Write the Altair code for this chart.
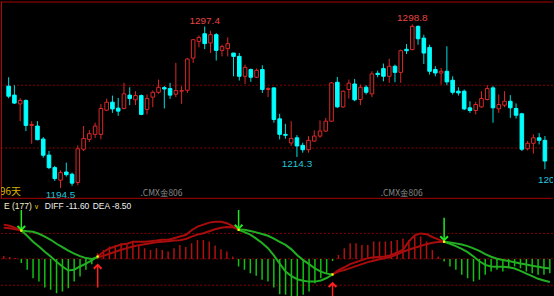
import altair as alt
import pandas as pd

# ---------------- data ----------------
opens = [1259.4, 1253.7, 1248.1, 1250.3, 1234.4, 1234.0, 1225.7, 1215.5, 1207.5, 1199.5,
         1204.7, 1203.3, 1198.0, 1219.2, 1225.5, 1228.7, 1228.7, 1244.1, 1249.2, 1245.4,
         1245.2, 1253.7, 1250.7, 1253.4, 1244.6, 1252.4, 1255.5, 1258.5, 1257.9, 1254.3,
         1256.2, 1256.8, 1277.3, 1287.9, 1292.8, 1286.9, 1292.2, 1282.2, 1283.3, 1280.5,
         1278.4, 1265.7, 1270.0, 1265.1, 1270.0, 1257.3, 1258.3, 1238.6, 1228.7, 1223.2,
         1226.5, 1221.7, 1218.9, 1224.4, 1227.6, 1230.8, 1237.1, 1261.9, 1246.2, 1257.3,
         1260.8, 1250.9, 1258.7, 1254.5, 1267.6, 1270.6, 1265.7, 1272.1, 1268.2, 1282.9,
         1282.7, 1297.5, 1290.0, 1284.1, 1270.0, 1267.8, 1268.9, 1263.2, 1256.2, 1256.2,
         1245.6, 1243.9, 1246.2, 1250.9, 1258.3, 1245.0, 1247.3, 1249.8, 1245.2, 1241.8,
         1219.5, 1223.0, 1226.5, 1224.9]
highs = [1265.1, 1260.0, 1251.9, 1250.9, 1237.1, 1237.1, 1227.0, 1218.1, 1208.6, 1205.8,
         1210.7, 1204.3, 1221.7, 1234.0, 1231.4, 1236.1, 1248.1, 1251.5, 1253.4, 1251.9,
         1261.5, 1258.7, 1256.2, 1254.1, 1254.1, 1256.6, 1263.6, 1259.4, 1261.5, 1274.2,
         1259.4, 1277.3, 1289.4, 1291.7, 1297.4, 1294.7, 1293.2, 1285.8, 1290.5, 1280.5,
         1280.5, 1273.1, 1270.6, 1270.6, 1272.7, 1258.7, 1258.7, 1241.8, 1235.4, 1237.1,
         1228.2, 1223.4, 1227.6, 1231.2, 1237.6, 1239.2, 1262.1, 1265.3, 1256.6, 1263.6,
         1264.0, 1260.4, 1260.0, 1268.9, 1269.3, 1273.8, 1276.9, 1273.1, 1282.7, 1286.2,
         1298.8, 1298.1, 1292.2, 1285.8, 1272.1, 1271.0, 1284.8, 1265.7, 1258.7, 1257.3,
         1249.8, 1249.4, 1256.2, 1260.0, 1259.4, 1254.1, 1256.2, 1253.7, 1248.4, 1242.4,
         1224.4, 1228.7, 1229.5, 1227.6]
lows = [1251.7, 1248.1, 1237.1, 1230.8, 1222.7, 1224.9, 1213.8, 1206.5, 1199.0, 1194.5,
        1201.8, 1195.9, 1196.3, 1218.1, 1223.8, 1226.3, 1225.5, 1243.5, 1242.4, 1240.5,
        1244.6, 1247.3, 1247.3, 1240.9, 1241.4, 1246.0, 1254.5, 1245.2, 1251.3, 1252.4,
        1248.1, 1255.1, 1274.2, 1284.1, 1283.0, 1280.5, 1275.7, 1278.4, 1278.4, 1265.7,
        1263.0, 1260.8, 1262.1, 1264.6, 1255.1, 1252.4, 1236.1, 1225.5, 1225.9, 1221.3,
        1214.3, 1217.0, 1217.0, 1224.0, 1226.5, 1230.3, 1236.7, 1245.6, 1245.6, 1251.5,
        1249.8, 1247.3, 1254.1, 1252.4, 1265.1, 1262.5, 1261.5, 1261.9, 1261.5, 1279.9,
        1282.2, 1285.8, 1273.5, 1266.8, 1265.7, 1260.4, 1260.0, 1254.1, 1253.4, 1244.1,
        1242.4, 1241.4, 1245.6, 1250.3, 1236.1, 1242.4, 1246.0, 1239.2, 1238.8, 1218.1,
        1218.5, 1216.4, 1222.3, 1206.5]
closes = [1253.0, 1248.6, 1250.3, 1234.4, 1235.0, 1225.3, 1215.4, 1207.5, 1200.5, 1204.3,
          1203.0, 1197.6, 1219.5, 1226.1, 1229.1, 1234.0, 1245.2, 1249.2, 1244.9, 1243.5,
          1254.5, 1251.5, 1253.4, 1241.4, 1251.5, 1255.5, 1258.7, 1257.6, 1253.7, 1256.6,
          1256.6, 1276.7, 1289.0, 1290.5, 1286.5, 1292.2, 1282.2, 1284.6, 1286.5, 1278.4,
          1265.7, 1271.4, 1265.1, 1269.5, 1257.3, 1257.9, 1238.2, 1228.7, 1228.1, 1226.1,
          1221.3, 1218.9, 1224.9, 1227.6, 1230.8, 1237.1, 1261.5, 1246.2, 1256.2, 1261.3,
          1250.7, 1258.7, 1255.5, 1267.2, 1266.8, 1265.7, 1272.1, 1268.2, 1282.0, 1282.0,
          1297.5, 1289.6, 1280.5, 1268.9, 1267.8, 1268.9, 1262.1, 1255.5, 1255.1, 1244.9,
          1243.9, 1247.7, 1251.5, 1257.9, 1245.6, 1247.7, 1249.8, 1245.6, 1240.9, 1219.2,
          1223.0, 1226.5, 1224.9, 1211.7]

grid_prices = [1260, 1220]

high_label_idx = [34, 70]
high_label_val = [1297.4, 1298.8]
low_label_idx = [9, 50]
low_label_val = [1194.5, 1214.3]
last_label_idx = [93]
last_label_val = [1206.5]

diff = [17.2, 16.6, 15.6, 14.2, 11.6, 8.6, 6.2, 3.6, 1.2, -1.4, -3.8, -5.8, -5.4, -3.8, -2.4, -0.8, 1.2,
        3.6, 5.2, 6.2, 7.2, 7.6, 8.6, 8.6, 8.6, 8.9, 9.2, 9.6, 9.6, 10.4, 11.2, 12.0, 14.4, 16.2, 17.2,
        18.2, 18.6, 18.6, 17.9, 16.4,
        14.6, 13.4, 12.2, 10.2, 8.0, 5.4, 1.8, -2.4, -6.4, -8.6, -10.2, -11.0, -11.4, -11.4, -10.8, -9.6,
        -7.8, -5.6, -4.2, -2.6, -1.6, -0.6, 0.4, 0.8, 1.0, 1.2, 2.0, 3.2, 4.6, 8.8, 11.8, 12.8, 12.4, 11.0, 9.8,
        8.6, 7.6, 6.4, 5.0, 3.4, 1.2, -1.2, -3.0, -3.8, -3.9, -3.9, -4.2, -4.8, -6.0, -7.4, -8.6, -10.0, -10.8, -11.6]
dea = [15.6, 15.4, 14.9, 14.2, 13.9, 13.6, 12.6, 11.2, 9.6, 7.6, 5.9, 4.2, 2.6, 1.4, 0.4, 0.0, 0.8,
       1.6, 2.6, 3.6, 4.6, 5.4, 6.2, 6.9, 7.4, 7.9, 8.4, 8.6, 8.9, 9.2, 9.4, 10.0, 11.2, 12.2, 12.9,
       13.9, 14.9, 15.6, 16.0, 15.9,
       14.8, 14.6, 14.0, 13.3, 12.5, 11.6, 10.2, 8.6, 7.0, 4.8, 1.8, -0.6, -2.6, -4.8, -6.4, -7.4,
       -7.8, -6.4, -5.6, -4.6, -3.6, -2.6, -1.6, -0.9, -0.2, 0.4, 1.2, 2.3, 3.6, 4.6, 5.6, 6.5, 7.4, 8.1, 8.5,
       8.6, 8.3, 7.8, 7.2, 6.4, 5.3, 4.0, 2.4, 1.1, 0.1, -0.5, -1.1, -1.7, -2.3, -2.8, -3.4, -3.9, -4.4, -4.8]
hist = [1.5, 1.0, 0.5, -2.0, -5.5, -9.7, -11.3, -14.3, -15.5, -17.2, -16.3, -14.7, -11.3, -8.8, -5.5, -2.7,
        2.8, 4.5, 6.2, 7.0, 7.8, 7.0, 8.7, 7.0, 5.3, 4.5, 5.3, 4.5, 3.7, 5.3, 7.0, 6.0, 7.8, 9.5, 9.5, 8.7,
        6.7, 4.8, 3.7, 1.2,
        -3.8, -5.5, -7.2, -8.5, -10.5, -11.3, -14.3, -17.7, -18.0, -18.8, -18.8, -18.0, -16.3, -12.2, -9.7,
        -7.2, -1.0,
        2.0, 5.3, 7.8, 7.8, 7.0, 7.0, 8.7, 8.7, 8.7, 9.0, 9.5, 10.3, 9.5, 12.0, 11.2, 8.7, 4.5, 1.2,
        -1.3, -3.8, -5.5, -8.0, -9.7, -11.3, -10.5, -8.0, -6.3, -5.5, -6.3, -4.7, -3.8, -4.7, -6.3, -7.2,
        -8.0, -8.0, -7.2]
macd_grid = [12.8, 0.0, -13.2]

cross_idx = [3, 16, 40, 56, 75]
cross_val = [14.2, 1.2, 14.6, -7.8, 8.6]
cross_kind = ["down", "up", "down", "up", "down"]
arrow_tip = [14.6, -3.0, 15.2, -12.2, 9.4]
arrow_tail = [24.5, -14.4, 24.5, -19.3, 20.6]

# ---------------- styles ----------------
BG = "#000000"
BULL = "#dc2828"
BEAR = "#00ffff"
BEAR_WICK = "#00dede"
LINE_RED = "#a80c0c"
LINE_GREEN = "#22b022"
HIST_RED = "#b01010"
HIST_GREEN = "#12c012"
ARROW_GREEN = "#22e622"
ARROW_RED = "#ff2020"
GRID = "#8b0000"
BORDER = "#a80000"
W = 554

n = len(opens)
idx = list(range(n))
candles = pd.DataFrame({"i": idx, "open": opens, "high": highs, "low": lows, "close": closes})
bull = [c >= o for o, c in zip(opens, closes)]
candles["col"] = [BULL if b else BEAR_WICK for b in bull]
candles["stroke"] = [BULL if b else BEAR for b in bull]
candles["fill"] = [BG if b else BEAR for b in bull]

xs = alt.Scale(domain=[-0.46, 93.54], nice=False, zero=False)
ys_top = alt.Scale(domain=[1187.62, 1313.33], nice=False, zero=False)
ys_bot = alt.Scale(domain=[-19.35, 29.65], nice=False, zero=False)
X = alt.X("i:Q", scale=xs, axis=None)
one = pd.DataFrame({"a": [0]})

# ---------------- top (price) panel ----------------
grid = alt.Chart(pd.DataFrame({"p": grid_prices})).mark_rule(
    color=GRID, strokeDash=[2, 2], strokeWidth=1
).encode(y=alt.Y("p:Q", scale=ys_top, axis=None))

top_line = alt.Chart(one).mark_rule(color=BORDER, strokeWidth=1).encode(
    x=alt.value(0), x2=alt.value(W), y=alt.value(0.5))
left_line = alt.Chart(one).mark_rule(color="#c00000", strokeWidth=1).encode(
    x=alt.value(0.5), y=alt.value(0), y2=alt.value(198))
sep_line = alt.Chart(one).mark_rule(color=BORDER, strokeWidth=1).encode(
    x=alt.value(0), x2=alt.value(W), y=alt.value(197.5))

wicks = alt.Chart(candles).mark_rule(strokeWidth=1).encode(
    x=X, y=alt.Y("low:Q", scale=ys_top, axis=None), y2="high:Q",
    color=alt.Color("col:N", scale=None))
bodies = alt.Chart(candles).mark_bar(width=3.6, strokeWidth=1).encode(
    x=X, y=alt.Y("open:Q", scale=ys_top, axis=None), y2="close:Q",
    fill=alt.Fill("fill:N", scale=None), stroke=alt.Stroke("stroke:N", scale=None))

lab_font = "Liberation Sans"
hi_df = pd.DataFrame({"i": high_label_idx, "p": high_label_val,
                      "t": [f"{v:.1f}" for v in high_label_val]})
lo_df = pd.DataFrame({"i": low_label_idx, "p": low_label_val,
                      "t": [f"{v:.1f}" for v in low_label_val]})
last_df = pd.DataFrame({"i": last_label_idx, "p": last_label_val,
                        "t": [f"{v:.1f}" for v in last_label_val]})
hi_text = alt.Chart(hi_df).mark_text(
    color="#e84444", font=lab_font, fontSize=10, baseline="bottom", dy=-1, clip=True
).encode(x=X, y=alt.Y("p:Q", scale=ys_top, axis=None), text="t:N")
lo_text = alt.Chart(lo_df).mark_text(
    color="#22c8d8", font=lab_font, fontSize=10, baseline="top", dy=2, clip=True
).encode(x=X, y=alt.Y("p:Q", scale=ys_top, axis=None), text="t:N")
last_text = alt.Chart(last_df).mark_text(
    color="#22c8d8", font=lab_font, fontSize=10, baseline="top", align="left", dx=-7, dy=6, clip=True
).encode(x=X, y=alt.Y("p:Q", scale=ys_top, axis=None), text="t:N")

cjk = "Noto Sans CJK SC"
days_text = alt.Chart(one).mark_text(
    text="96天", color="#d8b400", font=cjk, fontSize=10, align="left", baseline="middle", clip=True
).encode(x=alt.value(-1), y=alt.value(191))
wm1 = alt.Chart(one).mark_text(
    text=".CMX金806", color="#8a8a8a", font=cjk, fontSize=8.5, align="left", baseline="middle"
).encode(x=alt.value(140), y=alt.value(192.5))
wm2 = alt.Chart(one).mark_text(
    text=".CMX金806", color="#8a8a8a", font=cjk, fontSize=8.5, align="left", baseline="middle"
).encode(x=alt.value(381), y=alt.value(192.5))

top = alt.layer(grid, top_line, left_line, wicks, bodies, hi_text, lo_text, last_text,
                days_text, wm1, wm2, sep_line).properties(width=W, height=198)

# ---------------- bottom (MACD) panel ----------------
Yb = lambda f: alt.Y(f, scale=ys_bot, axis=None)

mgrid = alt.Chart(pd.DataFrame({"v": macd_grid})).mark_rule(
    color=GRID, strokeDash=[2, 2], strokeWidth=1
).encode(y=Yb("v:Q"))

hdf = pd.DataFrame({"i": idx, "h": hist, "zero": [0.0] * n})
hdf["col"] = [HIST_RED if h > 0 else HIST_GREEN for h in hist]
hbars = alt.Chart(hdf).mark_rule(strokeWidth=1.5, clip=True).encode(
    x=X, y=Yb("h:Q"), y2="zero:Q", color=alt.Color("col:N", scale=None))

bounds = [0] + cross_idx + [n - 1]
seg_cols = [LINE_RED, LINE_GREEN, LINE_RED, LINE_GREEN, LINE_RED, LINE_GREEN]
rows = []
for k in range(len(bounds) - 1):
    for i in range(bounds[k], bounds[k + 1] + 1):
        rows.append({"i": i, "v": diff[i], "key": f"diff{k}", "col": seg_cols[k]})
        rows.append({"i": i, "v": dea[i], "key": f"dea{k}", "col": seg_cols[k]})
ldf = pd.DataFrame(rows)
lines = alt.Chart(ldf).mark_line(strokeWidth=2, clip=True).encode(
    x=X, y=Yb("v:Q"), detail="key:N", order="i:Q", color=alt.Color("col:N", scale=None))

adf = pd.DataFrame({"i": cross_idx, "v": cross_val, "kind": cross_kind,
                    "tip": arrow_tip, "tail": arrow_tail})
adf["col"] = [ARROW_GREEN if k == "down" else ARROW_RED for k in cross_kind]
shafts = alt.Chart(adf).mark_rule(strokeWidth=1.5, clip=True).encode(
    x=X, y=Yb("tip:Q"), y2="tail:Q", color=alt.Color("col:N", scale=None))
heads_down = alt.Chart(adf).transform_filter(alt.datum.kind == "down").mark_point(
    shape="M-1,-1L0,0L1,-1", filled=False, strokeWidth=2, size=60, color=ARROW_GREEN, opacity=1
).encode(x=X, y=Yb("tip:Q"))
heads_up = alt.Chart(adf).transform_filter(alt.datum.kind == "up").mark_point(
    shape="M-1,1L0,0L1,1", filled=False, strokeWidth=2, size=60, color=ARROW_RED, opacity=1
).encode(x=X, y=Yb("tip:Q"))
dots = alt.Chart(adf).mark_square(size=5, color="#ffff00", opacity=1).encode(x=X, y=Yb("v:Q"))

hdr_font = "Liberation Sans"
h1 = alt.Chart(one).mark_text(text="E (177)", color="#f0f0c8", font=hdr_font, fontSize=8.5,
                              align="left", baseline="middle").encode(x=alt.value(3), y=alt.value(6))
h2 = alt.Chart(one).mark_text(text="∨", color="#e0c000", font="DejaVu Sans", fontSize=7,
                              align="left", baseline="middle").encode(x=alt.value(33), y=alt.value(7))
h3 = alt.Chart(one).mark_text(text="DIFF -11.60", color="#f0f0f0", font=hdr_font, fontSize=8.5,
                              align="left", baseline="middle").encode(x=alt.value(44), y=alt.value(6))
h4 = alt.Chart(one).mark_text(text="DEA -8.50", color="#f0f0f0", font=hdr_font, fontSize=8.5,
                              align="left", baseline="middle").encode(x=alt.value(92), y=alt.value(6))

bottom = alt.layer(mgrid, hbars, lines, shafts, heads_down, heads_up, dots,
                   h1, h2, h3, h4).properties(width=W, height=98)

chart = alt.vconcat(top, bottom, spacing=0).properties(
    padding=0, background=BG
).configure_view(stroke=None)

chart.save("out.html", embed_options={"renderer": "svg", "actions": False})
